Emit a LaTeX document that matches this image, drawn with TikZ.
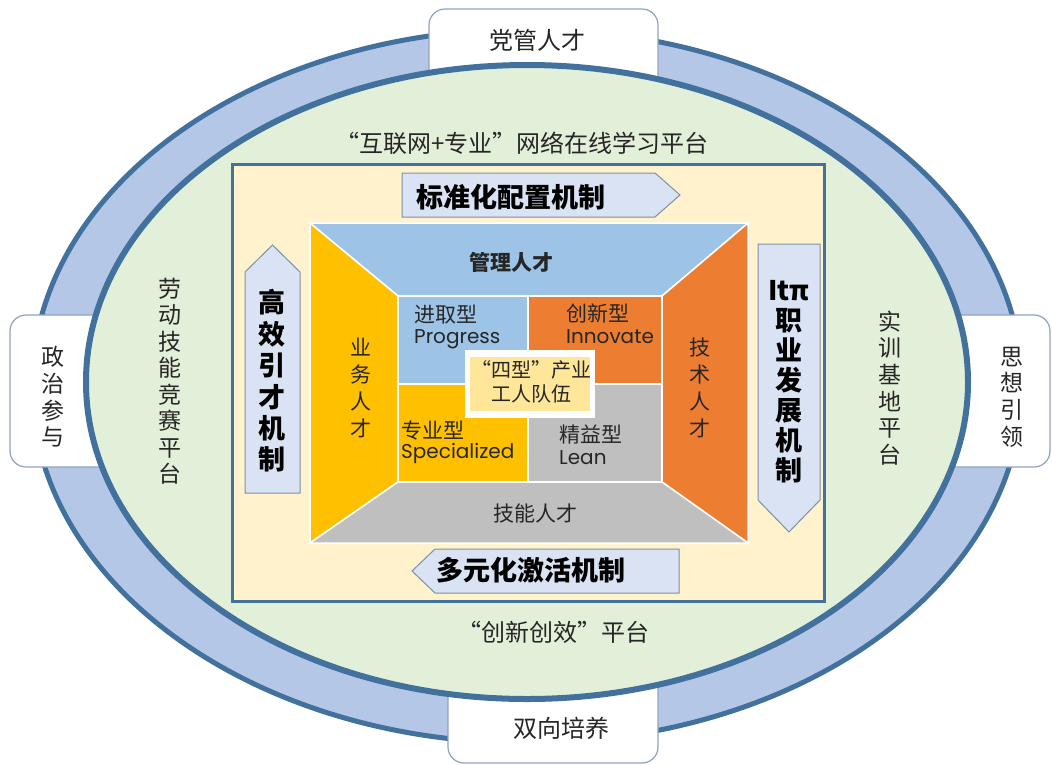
\documentclass[tikz,border=0pt]{standalone}
\usepackage{fontspec}
\setmainfont{Noto Sans CJK SC}
\newfontfamily\lat{Poppins}
\definecolor{band}{HTML}{B4C7E7}
\definecolor{ring}{HTML}{41719C}
\definecolor{ingreen}{HTML}{E2F0D9}
\definecolor{cream}{HTML}{FFF2CC}
\definecolor{boxline}{HTML}{8FA3C0}
\definecolor{arrfill}{HTML}{DAE3F3}
\definecolor{arrline}{HTML}{7F8FA6}
\definecolor{tblue}{HTML}{9DC3E6}
\definecolor{tyellow}{HTML}{FFC000}
\definecolor{torange}{HTML}{ED7D31}
\definecolor{tgray}{HTML}{BFBFBF}
\definecolor{cyellow}{HTML}{FFE699}
\definecolor{txt}{HTML}{262626}
\begin{document}
\begin{tikzpicture}[x=1pt,y=-1pt,
  box/.style={draw=boxline, fill=white, line width=1.2pt, rounded corners=16pt},
  arr/.style={draw=arrline, fill=arrfill, line width=1pt},
  seg/.style={draw=white, line width=1.5pt},
  lbl/.style={font=\fontsize{24}{27}\selectfont, text=txt, inner sep=0pt, align=center},
  vlbl/.style={font=\fontsize{23}{26.7}\selectfont, text=txt, inner sep=0pt, align=center},
  qlbl/.style={font=\fontsize{21}{24}\selectfont, text=txt, inner sep=0pt, anchor=west},
  qlat/.style={font=\lat\fontsize{20}{24}\selectfont, text=txt, inner sep=0pt, anchor=west},
  tlbl/.style={font=\fontsize{21}{27}\selectfont, text=txt, inner sep=0pt, align=center},
  big/.style={font=\fontsize{27}{31}\selectfont\bfseries, text=black, inner sep=0pt, align=center}
]
\useasboundingbox (0,0) rectangle (1052,764);
% outer ring
\draw[fill=band, draw=ring, line width=5pt] (527,386) ellipse [x radius=495, y radius=357];
% outer boxes
\draw[box] (429,9) rectangle (658,110);
\draw[box] (10,315) rectangle (140,467);
\draw[box] (915,315) rectangle (1050,467);
\draw[box] (448,650) rectangle (658,763);
% inner ellipse
\draw[fill=ingreen, draw=ring, line width=6pt] (527,382) ellipse [x radius=441, y radius=317];
% inner frame
\draw[fill=cream, draw=ring, line width=3pt] (232,164) rectangle (824,601);
% trapezoids
\draw[seg, fill=tblue] (310,223) -- (748,223) -- (662,296) -- (398,296) -- cycle;
\draw[seg, fill=tyellow] (310,223) -- (398,296) -- (398,482) -- (310,543) -- cycle;
\draw[seg, fill=torange] (748,223) -- (748,543) -- (662,482) -- (662,296) -- cycle;
\draw[seg, fill=tgray] (310,543) -- (398,482) -- (662,482) -- (748,543) -- cycle;
% quadrants
\draw[seg, fill=tblue] (398,296) rectangle (528,384);
\draw[seg, fill=torange] (528,296) rectangle (662,384);
\draw[seg, fill=tyellow] (398,384) rectangle (528,482);
\draw[seg, fill=tgray] (528,384) rectangle (662,482);
% centre label
\fill[white] (465,350) rectangle (595,418);
\fill[cyellow] (470,357) rectangle (590,411);
% arrows
\draw[arr] (402,173) -- (655,173) -- (680,195) -- (655,217) -- (402,217) -- cycle;
\draw[arr] (245,272) -- (272.5,245) -- (300,272) -- (300,493) -- (245,493) -- cycle;
\draw[arr] (758,244) -- (820,244) -- (820,500) -- (789,532) -- (758,500) -- cycle;
\draw[arr] (435,549) -- (679,549) -- (679,593) -- (435,593) -- (412,571) -- cycle;
% box texts
\node[lbl] (dang) at (537,40) {党管人才};
\node[vlbl] (zheng) at (53,397) {政\\治\\参\\与};
\node[vlbl] (sixiang) at (1012,397) {思\\想\\引\\领};
\node[lbl] (shuang) at (561,728) {双向培养};
% ring texts
\node[lbl] (hulian) at (522,143) {“互联网+专业”网络在线学习平台};
\node[lbl] (chuangxin) at (553,632) {“创新创效”平台};
\node[vlbl, font=\fontsize{23}{26.5}\selectfont] (laodong) at (170,381) {劳\\动\\技\\能\\竞\\赛\\平\\台};
\node[vlbl] (shixun) at (890,388) {实\\训\\基\\地\\平\\台};
% arrow texts
\node[big] (biaozhun) at (511,197) {标准化配置机制};
\node[big] (duoyuan) at (531,570) {多元化激活机制};
\node[big, font=\fontsize{27}{31.4}\selectfont\bfseries] (gaoxiao) at (272,381) {高\\效\\引\\才\\机\\制};
\node[big, font=\fontsize{27}{30}\selectfont\bfseries] (zhiye) at (789,382) {Itπ\\职\\业\\发\\展\\机\\制};
% trapezoid texts
\node[tlbl, font=\fontsize{21}{27}\selectfont\bfseries] (guanli) at (511,262) {管理人才};
\node[tlbl] (yewu) at (361,388) {业\\务\\人\\才};
\node[tlbl] (jishu) at (700,388) {技\\术\\人\\才};
\node[tlbl] (jineng) at (535,513) {技能人才};
% quadrant texts
\node[qlbl] (jinqu) at (414,315) {进取型};
\node[qlat] (progress) at (414,339) {Progress};
\node[qlbl] (chuangx) at (566,313) {创新型};
\node[qlat] (innovate) at (566,337) {Innovate};
\node[qlbl] (zhuanye) at (401,430) {专业型};
\node[qlat] (special) at (401,453) {Specialized};
\node[qlbl] (jingyi) at (559,435) {精益型};
\node[qlat] (lean) at (559,458) {Lean};
% centre text
\node[qlbl, anchor=center, align=center, font=\fontsize{20}{24}\selectfont] (sixing) at (531,382) {“四型”产业\\工人队伍};
\end{tikzpicture}
\end{document}
